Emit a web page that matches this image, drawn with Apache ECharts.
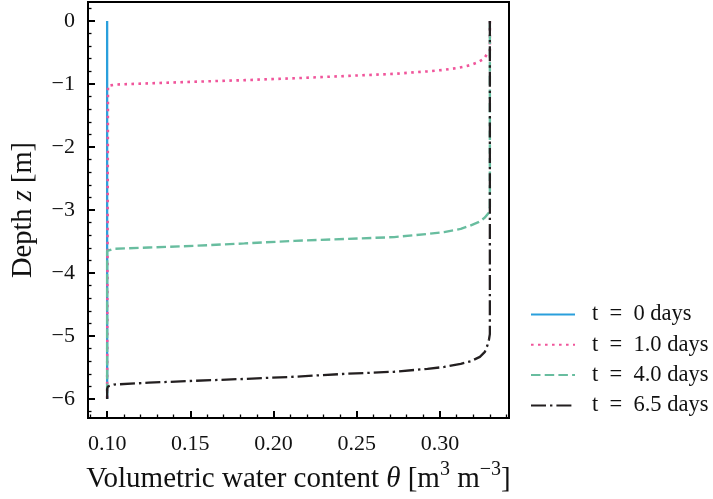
<!DOCTYPE html>
<html>
<head>
<meta charset="utf-8">
<script src="https://cdn.jsdelivr.net/npm/echarts@6/dist/echarts.min.js"></script>
<style>
  html, body { margin: 0; padding: 0; background: #fff; }
  #chart { width: 713px; height: 499px; }
</style>
</head>
<body>
<div id="chart"></div>
<script>
// Moisture profiles theta(z) during infiltration, one pair of arrays per time
const seriesNames = ['t\u2002=\u20020 days', 't\u2002=\u20021.0 days', 't\u2002=\u20024.0 days', 't\u2002=\u20026.5 days'];

const theta0 = [0.100, 0.100];
const depth0 = [0.0, -6.0];

const theta1 = [0.330, 0.330, 0.3285, 0.3265, 0.3225, 0.3185, 0.3145, 0.3105, 0.3065, 0.302,
                0.2925, 0.2725, 0.2425, 0.2125, 0.1825, 0.1524, 0.125, 0.105, 0.1005, 0.100, 0.100];
const depth1 = [0.0, -0.47, -0.516, -0.60, -0.66, -0.70, -0.725, -0.746, -0.762, -0.778,
                -0.80, -0.84, -0.875, -0.91, -0.94, -0.965, -0.99, -1.01, -1.03, -1.06, -6.0];

const theta2 = [0.330, 0.330, 0.3295, 0.327, 0.3235, 0.318, 0.3125, 0.3025, 0.2925, 0.2725,
                0.2425, 0.2125, 0.1825, 0.1524, 0.125, 0.104, 0.100, 0.100];
const depth2 = [0.0, -2.95, -3.04, -3.12, -3.19, -3.25, -3.30, -3.35, -3.38, -3.43,
                -3.46, -3.49, -3.53, -3.568, -3.595, -3.615, -3.65, -6.0];

const theta3 = [0.330, 0.330, 0.3295, 0.3285, 0.327, 0.324, 0.3185, 0.3125, 0.3025, 0.2925,
                0.2725, 0.2425, 0.2125, 0.1825, 0.1524, 0.125, 0.104, 0.1005, 0.100, 0.100];
const depth3 = [0.0, -4.97, -5.05, -5.15, -5.25, -5.33, -5.40, -5.44, -5.49, -5.52,
                -5.566, -5.60, -5.645, -5.68, -5.71, -5.74, -5.77, -5.80, -5.84, -6.0];

const thetaTicks = [0.10, 0.15, 0.20, 0.25, 0.30];
const depthTicks = [0, -1, -2, -3, -4, -5, -6];

const colors = ['#2a9fdc', '#f0559b', '#68bd9f', '#231f20'];
const widths = [2.3, 2.6, 2.4, 2.3];
const dashes = ['solid', [2.6, 4.4], [9.5, 4.2], [15, 4, 2.4, 4]];

function pairs(xs, ys) {
  return xs.map((x, i) => [x, ys[i]]);
}
const profiles = [pairs(theta0, depth0), pairs(theta1, depth1), pairs(theta2, depth2), pairs(theta3, depth3)];

// minor tick positions between the labelled ticks
const thetaMinor = [];
for (let k = 9; k <= 34; k++) if (k % 5 !== 0) thetaMinor.push(k / 100);
const depthMinor = [];
for (let k = -31; k <= 1; k++) if (k % 5 !== 0) depthMinor.push(k / 5);

const FONT = '"Liberation Serif", "DejaVu Serif", serif';
const xMin = 0.0885, xMax = 0.3415, yMin = -6.3, yMax = 0.3;

const minus = v => (v < 0 ? '\u2212' + Math.abs(v) : String(v));

const chart = echarts.init(document.getElementById('chart'), null, { renderer: 'canvas' });

chart.setOption({
  animation: false,
  backgroundColor: '#ffffff',
  grid: {
    left: 88, right: 204, top: 2, bottom: 77,
    show: true, borderColor: '#000', borderWidth: 2, backgroundColor: 'transparent'
  },
  legend: {
    orient: 'vertical',
    left: 530, top: 303, padding: 0,
    itemWidth: 44, itemHeight: 14, itemGap: 7.3,
    itemStyle: { opacity: 0 },
    textStyle: { fontFamily: FONT, fontSize: 22.5, color: '#111', lineHeight: 22, padding: [0, 0, 0, 12] },
    data: seriesNames
  },
  xAxis: [
    {
      type: 'value', min: xMin, max: xMax,
      name: '{t|Volumetric water content }{it|θ}{t| [m}{sup|3}{t| m}{sup|\u22123}{t|]}',
      nameLocation: 'middle', nameGap: 42,
      nameTextStyle: {
        rich: {
          t: { fontFamily: FONT, fontSize: 29, color: '#111', lineHeight: 34, verticalAlign: 'bottom' },
          it: { fontFamily: FONT, fontSize: 29, fontStyle: 'italic', color: '#111', lineHeight: 34, verticalAlign: 'bottom' },
          sup: { fontFamily: FONT, fontSize: 20, color: '#111', lineHeight: 34, verticalAlign: 'top' }
        }
      },
      axisLine: { show: false, onZero: false },
      splitLine: { show: false },
      axisTick: { show: true, inside: true, length: 7, lineStyle: { color: '#000', width: 2 }, customValues: thetaTicks },
      axisLabel: {
        customValues: thetaTicks, margin: 15,
        fontFamily: FONT, fontSize: 22, color: '#111',
        formatter: v => Number(v).toFixed(2)
      }
    },
    {
      type: 'value', min: xMin, max: xMax, position: 'bottom', gridIndex: 0,
      axisLine: { show: false, onZero: false }, splitLine: { show: false }, axisLabel: { show: false },
      axisTick: { show: true, inside: true, length: 3.5, lineStyle: { color: '#000', width: 1.3 }, customValues: thetaMinor }
    }
  ],
  yAxis: [
    {
      type: 'value', min: yMin, max: yMax,
      name: '{t|Depth }{it|z}{t| [m]}',
      nameLocation: 'middle', nameRotate: 90, nameGap: 50,
      nameMoveOverlap: false,
      nameTextStyle: {
        rich: {
          t: { fontFamily: FONT, fontSize: 28.5, color: '#111' },
          it: { fontFamily: FONT, fontSize: 28.5, fontStyle: 'italic', color: '#111' }
        }
      },
      axisLine: { show: false, onZero: false },
      splitLine: { show: false },
      axisTick: { show: true, inside: true, length: 7, lineStyle: { color: '#000', width: 2 }, customValues: depthTicks },
      axisLabel: {
        customValues: depthTicks, margin: 13,
        fontFamily: FONT, fontSize: 22, color: '#111',
        padding: [4, 0, 0, 0],
        formatter: minus
      }
    },
    {
      type: 'value', min: yMin, max: yMax, position: 'left', gridIndex: 0,
      axisLine: { show: false, onZero: false }, splitLine: { show: false }, axisLabel: { show: false },
      axisTick: { show: true, inside: true, length: 3.5, lineStyle: { color: '#000', width: 1.3 }, customValues: depthMinor }
    }
  ],
  series: profiles.map((data, i) => ({
    name: seriesNames[i],
    type: 'line',
    xAxisIndex: 0, yAxisIndex: 0,
    data: data,
    symbol: 'none',
    showSymbol: false,
    smooth: false,
    clip: true,
    color: colors[i],
    lineStyle: { color: colors[i], width: widths[i], type: dashes[i], cap: 'butt' },
    z: 2 + i
  }))
});
</script>
</body>
</html>
